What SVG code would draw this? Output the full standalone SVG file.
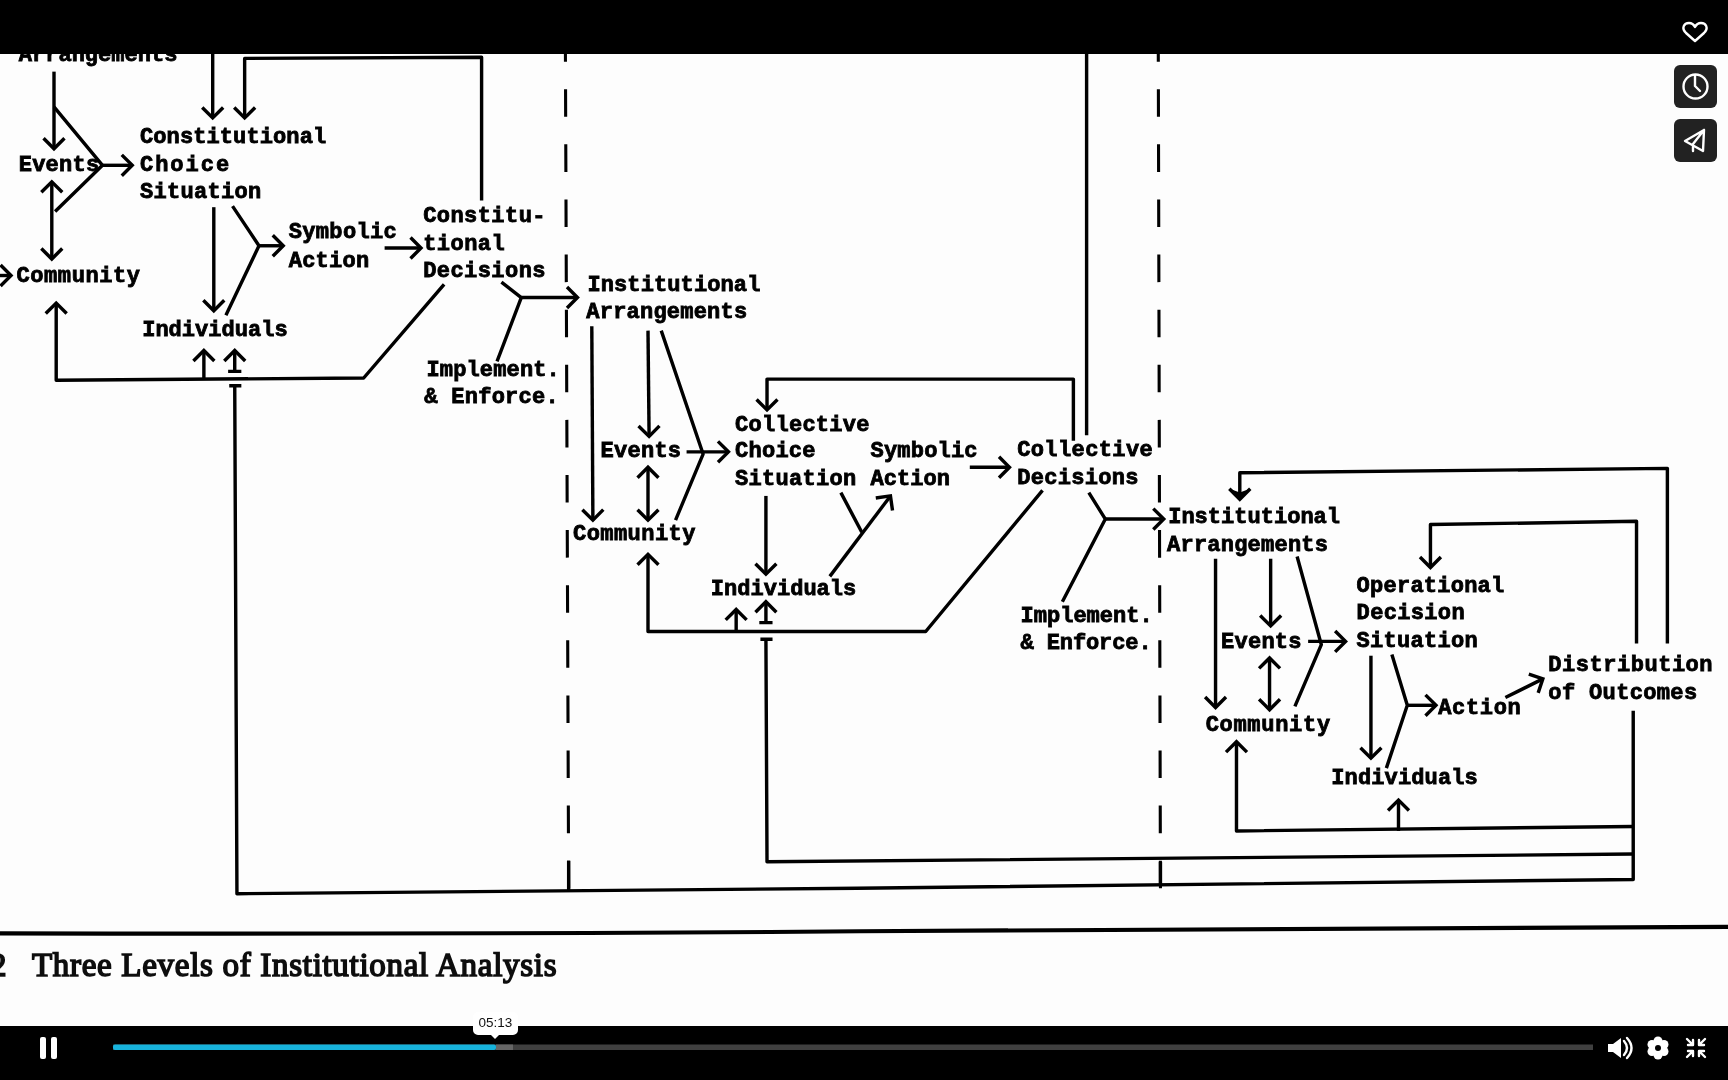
<svg xmlns="http://www.w3.org/2000/svg" width="1728" height="1080" viewBox="0 0 1728 1080">
<style>
.t{font-family:"Liberation Mono",monospace;font-weight:700;font-size:20px;fill:#050505;stroke:#050505;stroke-width:.75}
.c{fill:none;stroke:#050505;stroke-width:3.1;stroke-linejoin:round;stroke-linecap:butt}
.a{marker-end:url(#ah)}
.d{marker-start:url(#ah);marker-end:url(#ah)}
.ds{fill:none;stroke:#050505;stroke-width:2.8;stroke-dasharray:25 25}
.u{fill:none;stroke:#fff;stroke-width:2.4;stroke-linejoin:round;stroke-linecap:round}
.rule{fill:none;stroke:#050505;stroke-width:3.8}
.cap{font-family:"Liberation Serif",serif;font-weight:400;font-size:30px;fill:#0a0a0a;stroke:#0a0a0a;stroke-width:1.4}
</style>
<defs>
<marker id="ah" markerUnits="userSpaceOnUse" markerWidth="30" markerHeight="30" refX="15" refY="15" orient="auto-start-reverse" viewBox="0 0 30 30"><path d="M5.5 5.5L15 15L5.5 24.5" fill="none" stroke="#050505" stroke-width="3.1"/></marker>
<filter id="soft" x="-2%" y="-2%" width="104%" height="104%"><feGaussianBlur stdDeviation="0.6"/></filter>
</defs>
<rect width="1728" height="1080" fill="#fdfdfd"/>
<g transform="scale(1.10204)" filter="url(#soft)">
<g id="connectors">
<path class="ds" d="M513 31L516 806"/>
<path class="ds" d="M1051 31L1053 806"/>
<path class="c" d="M1053 782V803"/>
<path class="c" d="M516 781V808"/>
<path class="c a" d="M49 65V135"/>
<path class="c" d="M49 97L93 150L50 192"/>
<path class="c a" d="M93 150H120"/>
<path class="c d" d="M47 165V235"/>
<path class="c a" d="M193 40V107"/>
<path class="c a" d="M437 182V52L222 53V107"/>
<path class="c a" d="M194 188V282"/>
<path class="c" d="M211 187L235 223L205 286"/>
<path class="c a" d="M235 223H257"/>
<path class="c a" d="M349 225H382"/>
<path class="c a" d="M403 258L330 343L51 345V275"/>
<path class="c a" d="M185 344V318"/>
<path class="c a" d="M213 337V318"/>
<path class="c" d="M207 337H219M208 350H219"/>
<path class="c" d="M213 350L215 811L778 806L1482 798V645"/>
<path class="c" d="M455 256L473 270L451 328"/>
<path class="c a" d="M473 270H524"/>
<path class="c a" d="M0 250H10"/>
<path class="c a" d="M537 296L538 472"/>
<path class="c a" d="M588 300L589 396"/>
<path class="c" d="M600 300L638 412L613 472"/>
<path class="c a" d="M623 410H661"/>
<path class="c d" d="M588 424V472"/>
<path class="c a" d="M695 450V521"/>
<path class="c" d="M763 447L782 483"/>
<path class="c a" d="M753 523L808 450"/>
<path class="c a" d="M880 424H916"/>
<path class="c a" d="M974 400V344H696V372"/>
<path class="c" d="M986 40V395"/>
<path class="c a" d="M946 445L840 573H588V503"/>
<path class="c a" d="M668 573V553"/>
<path class="c a" d="M695 565V546"/>
<path class="c" d="M689 565H701M690 580H701"/>
<path class="c" d="M695 580L696 782L1482 775"/>
<path class="c" d="M988 447L1003 471L964 546"/>
<path class="c a" d="M1003 471H1056"/>
<path class="c a" d="M1513 584V425L1125 429V453"/>
<path d="M1117 444L1125 453L1133 444L1125 447Z" fill="#050505"/>
<path class="c a" d="M1485 584V473L1298 476V515"/>
<path class="c a" d="M1103 507V642"/>
<path class="c a" d="M1153 507V568"/>
<path class="c" d="M1177 505L1199 585L1175 641"/>
<path class="c a" d="M1187 582H1221"/>
<path class="c d" d="M1152 597V644"/>
<path class="c a" d="M1244 595V688"/>
<path class="c" d="M1263 594L1277 640L1258 697"/>
<path class="c a" d="M1277 640H1303"/>
<path class="c a" d="M1366 633L1400 616"/>
<path class="c a" d="M1482 750L1122 754V673"/>
<path class="c a" d="M1269 754V726"/>
</g>
<g id="nodes" transform="translate(0,-1)">
<g id="n-arrangements-1"><text class="t" x="17" y="56" textLength="144">Arrangements</text></g>
<g id="n-events-1"><text class="t" x="17" y="156" textLength="73">Events</text></g>
<g id="n-community-1"><text class="t" x="15" y="257" textLength="112">Community</text></g>
<g id="n-constitutional-choice"><text class="t" x="127" y="131" textLength="169">Constitutional</text><text class="t" x="127" y="156" textLength="81">Choice</text><text class="t" x="127" y="181" textLength="110">Situation</text></g>
<g id="n-symbolic-1"><text class="t" x="262" y="217" textLength="98">Symbolic</text><text class="t" x="262" y="243" textLength="73">Action</text></g>
<g id="n-const-decisions"><text class="t" x="384" y="202" textLength="111">Constitu-</text><text class="t" x="384" y="228" textLength="74">tional</text><text class="t" x="384" y="252" textLength="111">Decisions</text></g>
<g id="n-individuals-1"><text class="t" x="129" y="306" textLength="132">Individuals</text></g>
<g id="n-implement-1"><text class="t" x="387" y="342" textLength="121">Implement.</text><text class="t" x="385" y="367" textLength="122">&amp; Enforce.</text></g>
<g id="n-arrangements-2"><text class="t" x="533" y="265" textLength="157">Institutional</text><text class="t" x="532" y="290" textLength="146">Arrangements</text></g>
<g id="n-events-2"><text class="t" x="545" y="416" textLength="73">Events</text></g>
<g id="n-community-2"><text class="t" x="520" y="491" textLength="111">Community</text></g>
<g id="n-collective-choice"><text class="t" x="667" y="392" textLength="122">Collective</text><text class="t" x="667" y="416" textLength="73">Choice</text><text class="t" x="667" y="441" textLength="110">Situation</text></g>
<g id="n-symbolic-2"><text class="t" x="790" y="416" textLength="97">Symbolic</text><text class="t" x="790" y="441" textLength="72">Action</text></g>
<g id="n-collective-decisions"><text class="t" x="923" y="415" textLength="123">Collective</text><text class="t" x="923" y="440" textLength="110">Decisions</text></g>
<g id="n-individuals-2"><text class="t" x="645" y="541" textLength="132">Individuals</text></g>
<g id="n-implement-2"><text class="t" x="926" y="565" textLength="120">Implement.</text><text class="t" x="926" y="590" textLength="119">&amp; Enforce.</text></g>
<g id="n-arrangements-3"><text class="t" x="1060" y="476" textLength="156">Institutional</text><text class="t" x="1059" y="501" textLength="146">Arrangements</text></g>
<g id="n-events-3"><text class="t" x="1108" y="589" textLength="73">Events</text></g>
<g id="n-community-3"><text class="t" x="1094" y="664" textLength="113">Community</text></g>
<g id="n-operational"><text class="t" x="1231" y="538" textLength="134">Operational</text><text class="t" x="1231" y="563" textLength="98">Decision</text><text class="t" x="1231" y="588" textLength="110">Situation</text></g>
<g id="n-action-3"><text class="t" x="1305" y="649" textLength="75">Action</text></g>
<g id="n-individuals-3"><text class="t" x="1208" y="712" textLength="133">Individuals</text></g>
<g id="n-distribution"><text class="t" x="1405" y="610" textLength="149">Distribution</text><text class="t" x="1405" y="635" textLength="135">of Outcomes</text></g>
</g>
<path class="rule" d="M0 847Q400 848 780 845T1568 841"/>
<g id="caption"><text class="cap" x="-9" y="886">2</text><text class="cap" x="29" y="886" textLength="476">Three Levels of Institutional Analysis</text></g>
</g>
<g id="player-top">
<rect width="1728" height="54" fill="#000"/>
<path class="u" d="M1695 41L1686 33C1681 28 1684 23 1689 23C1692 23 1694 25 1695 27C1696 25 1698 23 1701 23C1706 23 1709 28 1704 33Z"/>
<rect x="1674" y="65" width="43" height="43" rx="6" fill="#222"/>
<circle class="u" cx="1695.5" cy="86.5" r="12"/>
<path class="u" d="M1695 76V86L1700 91" stroke-width="1.8"/>
<rect x="1674" y="119" width="43" height="43" rx="6" fill="#222"/>
<path class="u" d="M1704 130L1685 141L1703 151ZM1704 130L1693 144L1693 151"/>
</g>
<g id="player-bottom">
<rect y="1026" width="1728" height="54" fill="#000"/>
<rect x="40" y="1037" width="6" height="22" rx="2" fill="#fff"/>
<rect x="51" y="1037" width="6" height="22" rx="2" fill="#fff"/>
<rect x="113" y="1044.5" width="1480" height="5.5" fill="#404040"/>
<rect x="496" y="1044.5" width="17" height="5.5" fill="#666"/>
<rect x="113" y="1044.5" width="383" height="5.5" rx="2" fill="#17b3dc"/>
<path d="M473 1017a5 5 0 0 1 5-5H513a5 5 0 0 1 5 5V1030a5 5 0 0 1-5 5H499L495 1039L491 1035H478a5 5 0 0 1-5-5Z" fill="#fff"/>
<text x="495.5" y="1026.5" text-anchor="middle" font-family="'Liberation Sans',sans-serif" font-size="13.5" fill="#111">05:13</text>
<path d="M1608 1044H1613L1621 1038V1058L1613 1052H1608Z" fill="#fff"/>
<path class="u" d="M1624 1041Q1630 1048 1624 1055M1627 1038Q1636 1048 1627 1058" stroke-width="2"/>
<g fill="#fff"><circle cx="1658" cy="1041" r="4.5"/><circle cx="1664" cy="1044.5" r="4.5"/><circle cx="1664" cy="1051.5" r="4.5"/><circle cx="1658" cy="1055" r="4.5"/><circle cx="1652" cy="1051.5" r="4.5"/><circle cx="1652" cy="1044.5" r="4.5"/><circle cx="1658" cy="1048" r="6"/></g>
<circle cx="1658" cy="1048" r="3" fill="#000"/>
<path class="u" d="M1687 1039L1693 1045M1693 1040V1045H1688M1705 1039L1699 1045M1699 1040V1045H1704M1687 1057L1693 1051M1693 1056V1051H1688M1705 1057L1699 1051M1699 1056V1051H1704" stroke-width="2.2" stroke-linecap="butt"/>
</g>
</svg>
